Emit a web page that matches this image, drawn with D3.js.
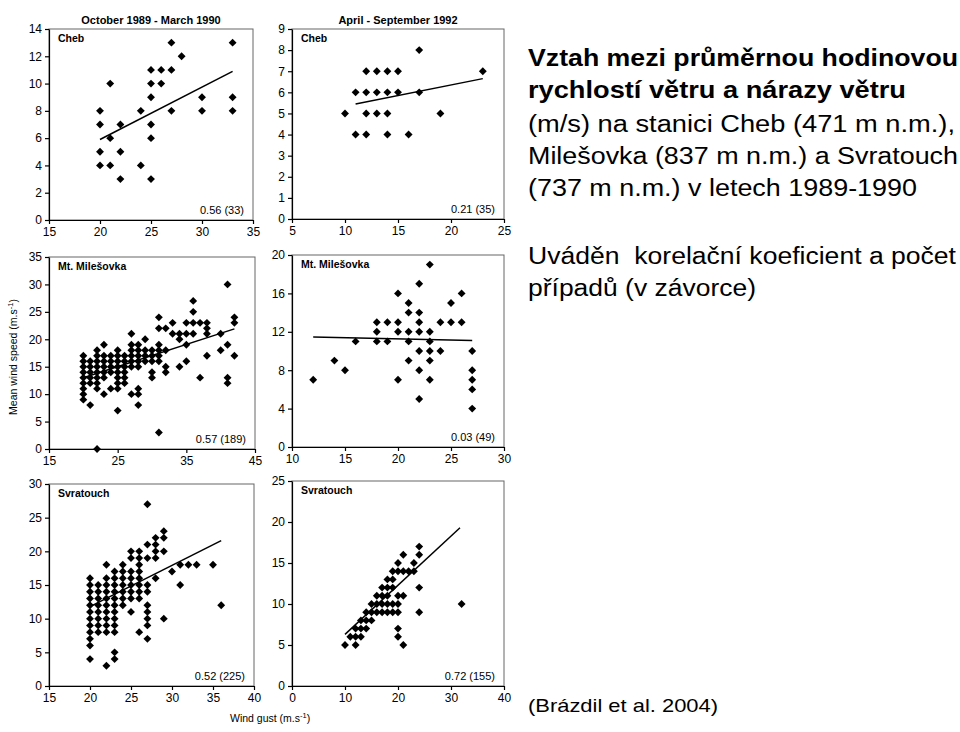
<!DOCTYPE html>
<html><head><meta charset="utf-8">
<script src="https://cdn.jsdelivr.net/npm/d3@7"></script>
<style>
body{margin:0;background:#fff}
svg{display:block}
text{font-family:"Liberation Sans",Arial,sans-serif;fill:#000}
</style>
</head><body>
<svg id="chart" width="960" height="732"></svg>
<script>
// ---------- DATA (gust value, list of mean speeds observed at that gust) ----------
const chebWinter = [
  [20,[8,7,5,4]],[21,[10,6,4]],[22,[7,5,3]],[24,[8,4]],[25,[11,10,9,7,6,3]],
  [26,[11,10]],[27,[13,11,8]],[28,[12]],[30,[9,8]],[33,[13,9,8]]
];
const chebSummer = [
  [10,[5]],[11,[6,4]],[12,[7,6,5,4]],[13,[7,6,5]],[14,[7,6,5,4]],
  [15,[7,6]],[16,[4]],[17,[8,6]],[19,[5]],[23,[7]]
];
const milesovkaWinter = [
  [20,[17,16,15,14,13,12,11,10,9]],[21,[16,15,14,13,12,8]],
  [22,[18,17,16,15,14,13,12,11,0]],[23,[19,17,16,15,14,13,10]],
  [24,[17,16,15,14,11]],[25,[18,17,16,15,14,13,12,11,7]],
  [26,[17,16,15,14,13,12]],[27,[21,19,18,17,16,15,10]],
  [28,[19,18,17,16,15,11,10,8]],[29,[20,18,17,16]],[30,[18,17,16,14,13]],
  [31,[24,22,19,18,17,16,3]],[32,[22,18,15,14]],[33,[23,21]],[34,[21,20,15]],
  [35,[23,21,19,16]],[36,[27,25,23,21]],[37,[23,13]],[38,[23,22,21,17]],
  [40,[21,18]],[41,[30,19,13,12]],[42,[24,23,17]]
];
const milesovkaSummer = [
  [12,[7]],[14,[9]],[15,[8]],[16,[11]],[18,[13,12,11]],[19,[13,11]],
  [20,[16,13,12,7]],[21,[15,14,12,11,9]],[22,[17,14,13,12,10,8,5]],
  [23,[19,12,11,10,9,7]],[24,[13,10]],[25,[15,13]],[26,[16,13]],[27,[10,8,7,6,4]]
];
const svratouchWinter = [
  [20,[16,15,14,13,12,11,10,9,8,7,6,4]],[21,[15,14,13,12,11,10,9,8]],
  [22,[18,16,15,14,13,12,11,10,9,8,3]],[23,[17,16,15,14,13,12,11,10,9,8,5,4]],
  [24,[18,17,16,15,14,13,12]],[25,[20,19,17,16,15,14,13,11]],
  [26,[20,19,18,17,16,15,14,13,8]],[27,[27,21,19,15,14,12,11,10,9,7]],
  [28,[22,21,20,19,16]],[29,[23,22,20,10]],[30,[17]],[31,[18,15]],
  [32,[18]],[33,[18]],[35,[18]],[36,[12]]
];
const svratouchSummer = [
  [10,[5]],[11,[6]],[12,[5,6,7]],[13,[6,7,8]],[14,[7,8,9]],[15,[8,9,10]],
  [16,[9,10,11]],[17,[9,10,11,12]],[18,[9,10,11,12,13]],[19,[9,10,12,13,14]],
  [20,[6,7,9,10,11,14,15]],[21,[5,11,14,16]],[22,[14]],[23,[14,15]],
  [24,[9,12,16,17]],[32,[10]]
];
// regression line end points [gust, speed]
const trendChebWinter = [[20,5.9],[33,10.9]];
const trendChebSummer = [[11,5.45],[23,6.65]];
const trendMilWinter = [[20,13.0],[42,21.9]];
const trendMilSummer = [[12,11.45],[27,11.1]];
const trendSvrWinter = [[20,11.8],[36,21.6]];
const trendSvrSummer = [[10,6.3],[31.7,19.3]];
// tick values
const ticksX1 = [15,20,25,30,35], ticksY1 = [0,2,4,6,8,10,12,14];
const ticksX2 = [5,10,15,20,25],  ticksY2 = [0,1,2,3,4,5,6,7,8,9];
const ticksX3 = [15,25,35,45],    ticksY3 = [0,5,10,15,20,25,30,35];
const ticksX4 = [10,15,20,25,30], ticksY4 = [0,4,8,12,16,20];
const ticksX5 = [15,20,25,30,35,40], ticksY5 = [0,5,10,15,20,25,30];
const ticksX6 = [0,10,20,30,40],  ticksY6 = [0,5,10,15,20,25];
// labels
const periodTitles = ["October 1989 - March 1990","April - September 1992"];
const stations = ["Cheb","Cheb","Mt. Milešovka","Mt. Milešovka","Svratouch","Svratouch"];
const corrLabels = ["0.56 (33)","0.21 (35)","0.57 (189)","0.03 (49)","0.52 (225)","0.72 (155)"];
const boldLines = ["Vztah mezi průměrnou hodinovou","rychlostí větru a nárazy větru"];
const normalLines = ["(m/s) na stanici Cheb (471 m n.m.),","Milešovka (837 m n.m.) a Svratouch","(737 m n.m.) v letech 1989-1990"];
const noteLines = ["Uváděn  korelační koeficient a počet","případů (v závorce)"];
const sourceText = "(Brázdil et al. 2004)";

// ---------- LAYOUT ----------
const panels = [
  {data:chebWinter, trend:trendChebWinter, xd:[15,35], yd:[0,14], xt:ticksX1, yt:ticksY1, box:[49,253,29,220], title:periodTitles[0]},
  {data:chebSummer, trend:trendChebSummer, xd:[5,25], yd:[0,9], xt:ticksX2, yt:ticksY2, box:[292,504,29,219], title:periodTitles[1]},
  {data:milesovkaWinter, trend:trendMilWinter, xd:[15,45], yd:[0,35], xt:ticksX3, yt:ticksY3, box:[49,255,257,449]},
  {data:milesovkaSummer, trend:trendMilSummer, xd:[10,30], yd:[0,20], xt:ticksX4, yt:ticksY4, box:[292,504,255,447]},
  {data:svratouchWinter, trend:trendSvrWinter, xd:[15,40], yd:[0,30], xt:ticksX5, yt:ticksY5, box:[49,254,484,686]},
  {data:svratouchSummer, trend:trendSvrSummer, xd:[0,40], yd:[0,25], xt:ticksX6, yt:ticksY6, box:[292,504,481,686]}
];

const svg = d3.select("#chart");
svg.append("rect").attr("width",960).attr("height",732).attr("fill","#fff");
const marker = d3.symbol().type(d3.symbolSquare).size(31)();

panels.forEach((p,i)=>{
  const [L,R,T,B] = p.box;
  const x = d3.scaleLinear().domain(p.xd).range([L,R]);
  const y = d3.scaleLinear().domain(p.yd).range([B,T]);
  const g = svg.append("g");
  g.append("rect").attr("x",L).attr("y",T).attr("width",R-L).attr("height",B-T)
    .attr("fill","none").attr("stroke","#666").attr("stroke-width",1);
  const ax = g.append("g").attr("transform",`translate(0,${B})`)
    .call(d3.axisBottom(x).tickValues(p.xt).tickSize(4).tickPadding(3).tickSizeOuter(0));
  const ay = g.append("g").attr("transform",`translate(${L},0)`)
    .call(d3.axisLeft(y).tickValues(p.yt).tickSize(4).tickPadding(3).tickSizeOuter(0));
  [ax,ay].forEach(a=>{
    a.selectAll("text").attr("font-size",12).attr("font-family","Liberation Sans, Arial, sans-serif").attr("fill","#000");
    a.selectAll("line,path").attr("stroke","#000").attr("stroke-width",1.2);
  });
  const pts = p.data.flatMap(([gx,vs])=>vs.map(v=>[gx,v]));
  g.selectAll("path.pt").data(pts).join("path").attr("class","pt")
    .attr("d",marker)
    .attr("transform",d=>`translate(${x(d[0])},${y(d[1])}) rotate(45)`)
    .attr("fill","#000");
  g.append("line")
    .attr("x1",x(p.trend[0][0])).attr("y1",y(p.trend[0][1]))
    .attr("x2",x(p.trend[1][0])).attr("y2",y(p.trend[1][1]))
    .attr("stroke","#000").attr("stroke-width",1.5);
  g.append("text").attr("x",L+9).attr("y",T+13).attr("font-size",10.5).attr("font-weight","bold").text(stations[i]);
  g.append("text").attr("x",R-9).attr("y",B-6).attr("font-size",11).attr("text-anchor","end").text(corrLabels[i]);
  if(p.title){
    g.append("text").attr("x",(L+R)/2).attr("y",T-5).attr("font-size",11).attr("font-weight","bold")
      .attr("text-anchor","middle").text(p.title);
  }
});

// axis titles
const yt = svg.append("text").attr("transform","translate(17,357) rotate(-90)")
  .attr("text-anchor","middle").attr("font-size",10.5);
yt.append("tspan").text("Mean wind speed (m.s");
yt.append("tspan").attr("dy",-4).attr("font-size",7.5).text("-1");
yt.append("tspan").attr("dy",4).text(")");
const xt = svg.append("text").attr("x",230).attr("y",722).attr("font-size",10.5);
xt.append("tspan").text("Wind gust (m.s");
xt.append("tspan").attr("dy",-4).attr("font-size",7.5).text("-1");
xt.append("tspan").attr("dy",4).text(")");

// right-hand text block (widths matched to the reference)
const tx = 528;
const boldW = [430,378], normalW = [427,430,389], noteW = [428,228];
boldLines.forEach((t,k)=>svg.append("text").attr("x",tx).attr("y",66+k*31.5)
  .attr("font-size",23.5).attr("font-weight","bold")
  .attr("textLength",boldW[k]).attr("lengthAdjust","spacingAndGlyphs").text(t));
normalLines.forEach((t,k)=>svg.append("text").attr("x",tx).attr("y",132+k*32)
  .attr("font-size",23.5).attr("textLength",normalW[k]).attr("lengthAdjust","spacingAndGlyphs").text(t));
noteLines.forEach((t,k)=>svg.append("text").attr("x",tx).attr("y",264+k*32)
  .attr("font-size",23.5).attr("xml:space","preserve").style("white-space","pre")
  .attr("textLength",noteW[k]).attr("lengthAdjust","spacingAndGlyphs").text(t));
svg.append("text").attr("x",tx).attr("y",712).attr("font-size",19)
  .attr("textLength",190).attr("lengthAdjust","spacingAndGlyphs").text(sourceText);
</script>
</body></html>
